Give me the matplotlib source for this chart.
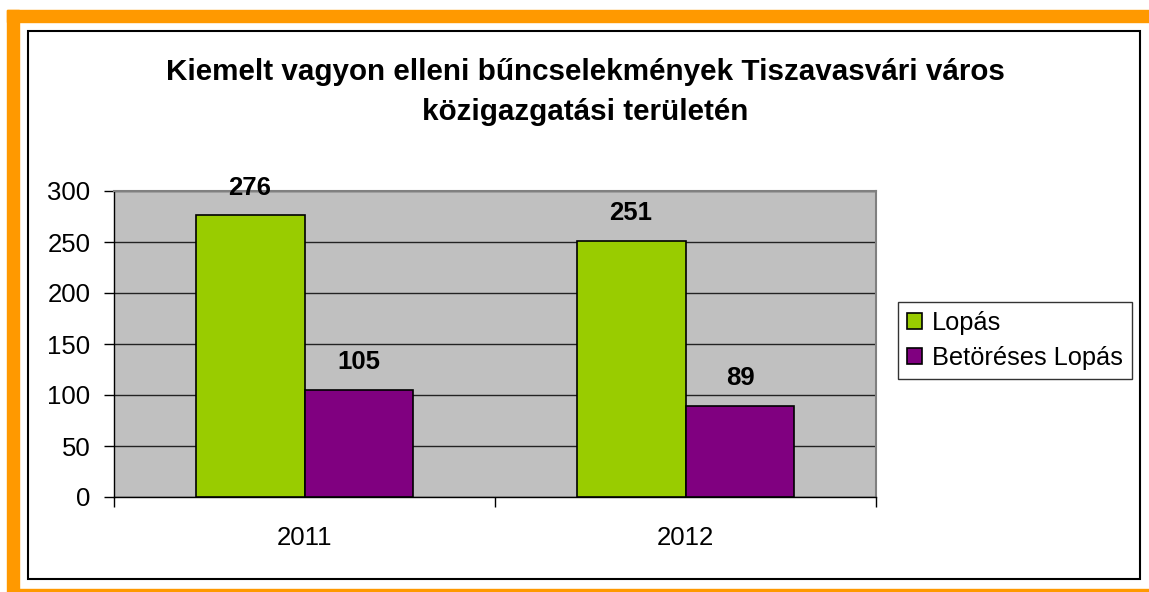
import matplotlib.pyplot as plt
from matplotlib.patches import Rectangle
import numpy as np

years = ["2011", "2012"]
series_names = ["Lopás", "Betöréses Lopás"]
lopas = [276, 251]
betoreses = [105, 89]
colors = ["#99CC00", "#800080"]
title = "Kiemelt vagyon elleni bűncselekmények Tiszavasvári város\nközigazgatási területén"

plt.rcParams['font.family'] = ['Liberation Sans', 'DejaVu Sans']

W, H = 1149, 592
fig = plt.figure(figsize=(W / 100, H / 100), dpi=100)

# orange page decoration and black chart frame
orange = "#FF9900"
fig.patches.append(Rectangle((7 / W, 0), 12 / W, 1 - 10 / H, transform=fig.transFigure,
                             color=orange, zorder=0))
fig.patches.append(Rectangle((7 / W, 1 - 22 / H), 1 - 7 / W, 12 / H, transform=fig.transFigure,
                             color=orange, zorder=0))
fig.patches.append(Rectangle((19 / W, 0), 1 - 19 / W, 3 / H, transform=fig.transFigure,
                             color=orange, zorder=0))
fig.patches.append(Rectangle((28 / W, 1 - 579 / H), 1112 / W, 548 / H, transform=fig.transFigure,
                             fill=False, edgecolor="black", lw=1.5, zorder=1))

ax = fig.add_axes([114 / W, 1 - 497 / H, 762 / W, 306 / H])
ax.set_facecolor("#C0C0C0")

x = np.arange(len(years))
bw = 0.286
bars1 = ax.bar(x - bw / 2, lopas, bw, color=colors[0], edgecolor="black", lw=1.2,
               label=series_names[0], zorder=3)
bars2 = ax.bar(x + bw / 2, betoreses, bw, color=colors[1], edgecolor="black", lw=1.2,
               label=series_names[1], zorder=3)

for bars in (bars1, bars2):
    for b in bars:
        ax.annotate(f"{int(b.get_height())}", (b.get_x() + b.get_width() / 2, b.get_height()),
                    xytext=(0, 20), textcoords="offset points", ha="center", va="center",
                    fontsize=18.5, fontweight="bold")

ax.set_xlim(-0.5, 1.5)
ax.set_ylim(0, 300)
ax.set_yticks(range(0, 301, 50))
ax.yaxis.grid(True, color="#222222", lw=1)
ax.set_axisbelow(True)
ax.tick_params(axis="y", direction="out", length=7, width=1, labelsize=18.5, pad=10)

ax.set_xticks([-0.5, 0.5, 1.5])
ax.set_xticklabels([])
ax.set_xticks(x, minor=True)
ax.set_xticklabels(years, minor=True)
ax.tick_params(axis="x", which="major", direction="out", length=7, width=1)
ax.tick_params(axis="x", which="minor", length=0, labelsize=18.5, pad=21)

for s in ("top", "right"):
    ax.spines[s].set_color("#808080")
    ax.spines[s].set_linewidth(1.5)
for s in ("left", "bottom"):
    ax.spines[s].set_color("black")
    ax.spines[s].set_linewidth(1)

fig.text(585 / W, 1 - 92 / H, title, ha="center", va="center", fontsize=21.3,
         fontweight="bold", linespacing=1.55)

leg = fig.legend(handles=[bars1, bars2], labels=series_names, loc="upper left",
                 bbox_to_anchor=(898 / W, 1 - 302 / H), fontsize=18.3, frameon=True,
                 fancybox=False, edgecolor="black", handlelength=0.6, handleheight=0.6,
                 handletextpad=0.4, borderpad=0.35, labelspacing=0.45, borderaxespad=0)
leg.get_frame().set_linewidth(1)

fig.savefig("out.png", dpi=100)
